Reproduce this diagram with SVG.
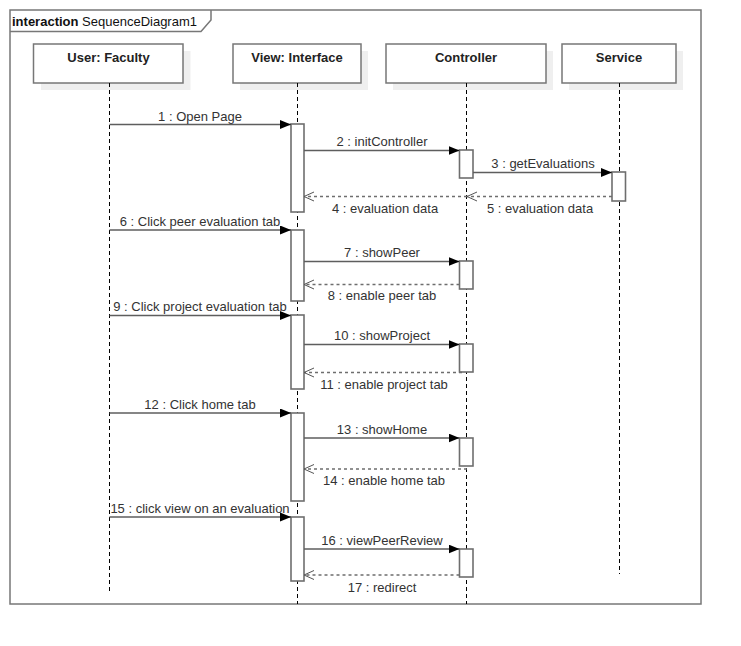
<svg xmlns="http://www.w3.org/2000/svg" width="741" height="646" viewBox="0 0 741 646">
<style>
.frame{fill:none;stroke:#777;stroke-width:1.5}
.box{fill:#fff;stroke:#777;stroke-width:1.5}
.shadow{fill:#efefef;stroke:none}
.life{stroke:#000;stroke-width:1;stroke-dasharray:4 3;fill:none}
.act{fill:#fff;stroke:#6e6e6e;stroke-width:1.6}
.msg{stroke:#5e5e5e;stroke-width:1.5;fill:none}
.ret{stroke:#6e6e6e;stroke-width:1.5;stroke-dasharray:3 3;fill:none}
.hd{font-family:"Liberation Sans",Arial,sans-serif;font-size:13px;font-weight:bold;fill:#222;text-anchor:middle}
.lb{font-family:"Liberation Sans",Arial,sans-serif;font-size:13px;fill:#333;text-anchor:middle}
.ft{font-family:"Liberation Sans",Arial,sans-serif;font-size:13px;fill:#111}
</style>
<defs>
<marker id="fill" markerUnits="userSpaceOnUse" markerWidth="12" markerHeight="10" refX="11" refY="4.5" orient="auto">
<path d="M0,0 L11,4.5 L0,9 z" fill="#000"/>
</marker>
<marker id="open" markerUnits="userSpaceOnUse" markerWidth="12" markerHeight="11" refX="10.5" refY="5" orient="auto">
<path d="M0.5,0.5 L10.5,5 L0.5,9.5" fill="none" stroke="#555" stroke-width="1"/>
</marker>
</defs>
<rect width="741" height="646" fill="#fff"/>
<g id="frame">
<rect class="frame" x="10" y="10" width="691" height="594"/>
<path class="frame" d="M10 31.5 H201 L211 20 V10"/>
<text class="ft" x="12" y="25.5"><tspan font-weight="bold">interaction</tspan> SequenceDiagram1</text>
</g>
<g id="user">
<rect class="shadow" x="41" y="51" width="149.5" height="39"/>
<rect class="box" x="33.5" y="44" width="149.5" height="39"/>
<text class="hd" x="108.5" y="62">User: Faculty</text>
<line class="life" x1="109.5" y1="83" x2="109.5" y2="592"/>
</g>
<g id="view">
<rect class="shadow" x="240" y="51" width="128" height="39"/>
<rect class="box" x="233" y="44" width="128" height="39"/>
<text class="hd" x="297" y="62">View: Interface</text>
<line class="life" x1="297.5" y1="83" x2="297.5" y2="604"/>
<rect class="act" x="291" y="124" width="13" height="88"/>
<rect class="act" x="291" y="230" width="13" height="71"/>
<rect class="act" x="291" y="315" width="13" height="74"/>
<rect class="act" x="291" y="413" width="13" height="88"/>
<rect class="act" x="291" y="517" width="13" height="64"/>
</g>
<g id="controller">
<rect class="shadow" x="393" y="51" width="160" height="39"/>
<rect class="box" x="386" y="44" width="160" height="39"/>
<text class="hd" x="466" y="62">Controller</text>
<line class="life" x1="466.5" y1="83" x2="466.5" y2="604"/>
<rect class="act" x="459.5" y="150" width="13.5" height="28"/>
<rect class="act" x="459.5" y="261" width="13.5" height="28"/>
<rect class="act" x="459.5" y="344" width="13.5" height="28"/>
<rect class="act" x="459.5" y="438" width="13.5" height="28"/>
<rect class="act" x="459.5" y="549" width="13.5" height="28"/>
</g>
<g id="service">
<rect class="shadow" x="569" y="51" width="114" height="39"/>
<rect class="box" x="562" y="44" width="114" height="39"/>
<text class="hd" x="619" y="62">Service</text>
<line class="life" x1="619.5" y1="83" x2="619.5" y2="574"/>
<rect class="act" x="612" y="172" width="13.5" height="29"/>
</g>
<g id="connectors">
<line class="msg" x1="109.5" y1="124.5" x2="291" y2="124.5" marker-end="url(#fill)"/>
<line class="msg" x1="304" y1="150.5" x2="459.5" y2="150.5" marker-end="url(#fill)"/>
<line class="msg" x1="473" y1="172.5" x2="612" y2="172.5" marker-end="url(#fill)"/>
<line class="ret" x1="612" y1="196.5" x2="467" y2="196.5" marker-end="url(#open)"/>
<line class="ret" x1="467" y1="196.5" x2="304" y2="196.5" marker-end="url(#open)"/>
<line class="msg" x1="109.5" y1="230" x2="291" y2="230" marker-end="url(#fill)"/>
<line class="msg" x1="304" y1="261.5" x2="459.5" y2="261.5" marker-end="url(#fill)"/>
<line class="ret" x1="459.5" y1="284.5" x2="304" y2="284.5" marker-end="url(#open)"/>
<line class="msg" x1="109.5" y1="315.5" x2="291" y2="315.5" marker-end="url(#fill)"/>
<line class="msg" x1="304" y1="344.5" x2="459.5" y2="344.5" marker-end="url(#fill)"/>
<line class="ret" x1="462" y1="372.5" x2="304" y2="372.5" marker-end="url(#open)"/>
<line class="msg" x1="109.5" y1="413" x2="291" y2="413" marker-end="url(#fill)"/>
<line class="msg" x1="304" y1="438" x2="459.5" y2="438" marker-end="url(#fill)"/>
<line class="ret" x1="467" y1="469" x2="304" y2="469" marker-end="url(#open)"/>
<line class="msg" x1="109.5" y1="517" x2="291" y2="517" marker-end="url(#fill)"/>
<line class="msg" x1="304" y1="549" x2="459.5" y2="549" marker-end="url(#fill)"/>
<line class="ret" x1="459.5" y1="575" x2="304" y2="575" marker-end="url(#open)"/>
<text class="lb" x="200" y="120.5">1 : Open Page</text>
<text class="lb" x="382" y="146">2 : initController</text>
<text class="lb" x="543" y="168">3 : getEvaluations</text>
<text class="lb" x="385" y="213">4 : evaluation data</text>
<text class="lb" x="540" y="213">5 : evaluation data</text>
<text class="lb" x="200" y="226">6 : Click peer evaluation tab</text>
<text class="lb" x="382" y="257">7 : showPeer</text>
<text class="lb" x="382" y="300">8 : enable peer tab</text>
<text class="lb" x="200" y="311">9 : Click project evaluation tab</text>
<text class="lb" x="382" y="340">10 : showProject</text>
<text class="lb" x="384" y="389">11 : enable project tab</text>
<text class="lb" x="200" y="409">12 : Click home tab</text>
<text class="lb" x="382" y="434">13 : showHome</text>
<text class="lb" x="384" y="485">14 : enable home tab</text>
<text class="lb" x="200" y="513">15 : click view on an evaluation</text>
<text class="lb" x="382" y="545">16 : viewPeerReview</text>
<text class="lb" x="382" y="592">17 : redirect</text>
</g>
</svg>
